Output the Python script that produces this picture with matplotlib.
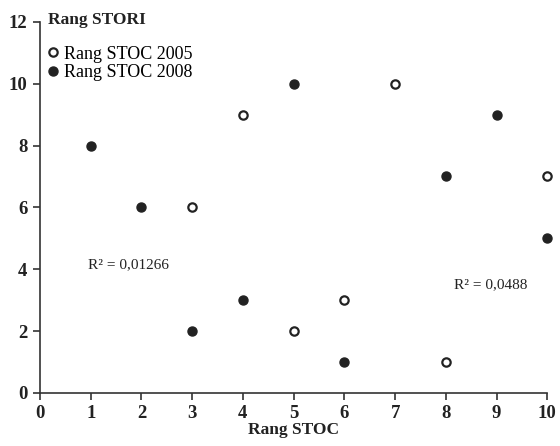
import matplotlib
matplotlib.use('Agg')
import matplotlib.pyplot as plt
from matplotlib.lines import Line2D

plt.rcParams['font.family'] = ['Liberation Serif', 'DejaVu Serif']

x2005 = [3, 4, 5, 6, 7, 8, 10]
y2005 = [6, 9, 2, 3, 10, 1, 7]
x2008 = [1, 2, 3, 4, 5, 6, 8, 9, 10]
y2008 = [8, 6, 2, 3, 10, 1, 7, 9, 5]
xticks = list(range(0, 11))
yticks = list(range(0, 13, 2))

fig = plt.figure(figsize=(5.6, 4.46), dpi=100)
ax = fig.add_axes([0.0714, 0.119, 0.906, 0.832])

ax.plot(x2008, y2008, 'o', color='#222222', ms=6.5, clip_on=False)
ax.plot(x2005, y2005, 'o', mfc='white', mec='#222222', mew=1.6, ms=6, clip_on=False)

ax.set_xlim(0, 10)
ax.set_ylim(0, 12)
ax.set_xticks(xticks)
ax.set_yticks(yticks)
for s in ['top', 'right']:
    ax.spines[s].set_visible(False)
for s in ['left', 'bottom']:
    ax.spines[s].set_color('#333333')
    ax.spines[s].set_linewidth(1.2)
ax.tick_params(direction='out', length=5, width=1.2, color='#333333',
               labelsize=13.5, pad=4)
for lab in ax.get_xticklabels() + ax.get_yticklabels():
    lab.set_fontweight('bold')
    lab.set_color('#222222')

ax.set_xlabel('Rang STOC', fontsize=12.5, fontweight='bold', labelpad=0, color='#222222')
ax.text(0.16, 12.05, 'Rang STORI', fontsize=12.5, fontweight='bold', color='#222222',
        va='center', ha='left')

handles = [Line2D([], [], ls='none', marker='o', mfc='white', mec='#222222', mew=1.6, ms=6),
           Line2D([], [], ls='none', marker='o', color='#222222', ms=6.5)]
ax.legend(handles, ['Rang STOC 2005', 'Rang STOC 2008'], loc='upper left',
          bbox_to_anchor=(-0.02, 0.97), frameon=False, fontsize=13,
          handletextpad=0.0, labelspacing=0.1, borderaxespad=0.3, handlelength=1.2)

ax.text(1.74, 4.14, 'R² = 0,01266', fontsize=11, ha='center', va='center', color='#222222')
ax.text(8.88, 3.5, 'R² = 0,0488', fontsize=11, ha='center', va='center', color='#222222')

fig.savefig('out.png', dpi=100)
